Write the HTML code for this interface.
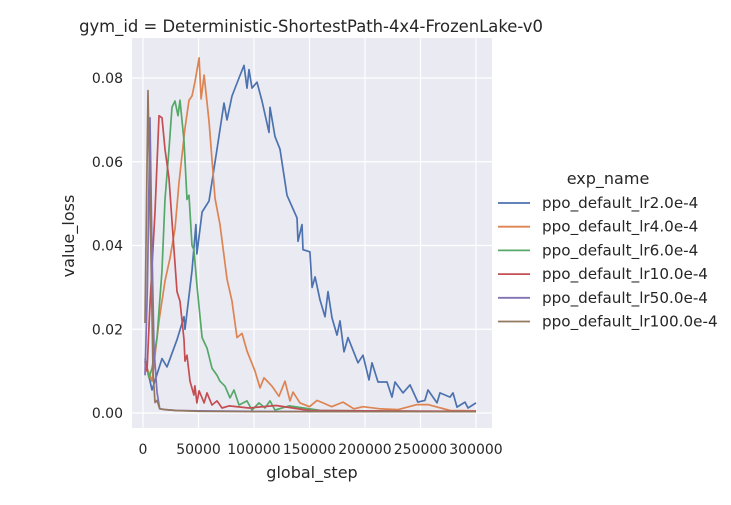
<!DOCTYPE html>
<html><head><meta charset="utf-8"><style>
body{margin:0;background:#fff;}
svg text{font-family:"DejaVu Sans","Liberation Sans",sans-serif;fill:#262626;}
</style></head><body>
<svg id="chart" width="731" height="500"></svg>
<script>
const xTicks=[0,50000,100000,150000,200000,250000,300000];
const yTicks=[0,0.02,0.04,0.06,0.08];
const yTickLabels=["0.00","0.02","0.04","0.06","0.08"];
const seriesNames=["ppo_default_lr2.0e-4","ppo_default_lr4.0e-4","ppo_default_lr6.0e-4","ppo_default_lr10.0e-4","ppo_default_lr50.0e-4","ppo_default_lr100.0e-4"];
const colors=["#4c72b0","#dd8452","#55a868","#c44e52","#8172b3","#937860"];
// steps in thousands
const lr2Steps=[1.8,8.1,17.1,21.6,30.6,36.9,37.8,44.1,47.7,48.6,53.2,59.5,66.7,73,75.7,80.2,86.5,91,93.7,95.5,98.2,102.7,107.2,113.5,114.4,118.9,123.4,129.7,138.7,139.6,143.2,144.1,150.4,152.3,155,159.5,164,166.7,170.3,174.8,177.5,181.1,184.7,193.7,198.2,203.6,206.3,211.7,219.8,224.3,227,234.2,240.5,247.7,254,256.8,264.9,267.6,276.6,279.3,282.9,290.1,292.8,300];
const lr2Vals=[0.013,0.0055,0.013,0.011,0.0175,0.023,0.020,0.034,0.045,0.038,0.048,0.0506,0.063,0.074,0.070,0.0757,0.080,0.083,0.0776,0.082,0.0776,0.079,0.0745,0.067,0.073,0.066,0.063,0.052,0.0466,0.041,0.045,0.039,0.0385,0.030,0.0325,0.027,0.023,0.029,0.0227,0.0186,0.022,0.0146,0.018,0.012,0.0138,0.0079,0.012,0.0074,0.0074,0.0038,0.0074,0.0048,0.0067,0.0026,0.003,0.0055,0.0024,0.0048,0.0038,0.0048,0.0014,0.0026,0.0012,0.0024];
const lr4Steps=[1.8,8.1,14.4,19.8,24.3,28.8,32.4,37.8,41.4,44.1,46.8,50.5,52.3,55,59.5,64.9,69.4,75.7,80.2,84.7,89.2,93.7,100.9,105.4,109,116.2,122.5,127.9,132.4,135.1,141.4,150,156.8,162.2,170,180.2,190,198.2,213.5,230,246.8,256.8,276.6,300];
const lr4Vals=[0.012,0.0076,0.022,0.0315,0.037,0.044,0.055,0.068,0.0747,0.0757,0.079,0.0848,0.075,0.0807,0.0697,0.0513,0.045,0.032,0.0267,0.018,0.019,0.0148,0.010,0.006,0.0084,0.0064,0.004,0.0076,0.0029,0.005,0.0024,0.0015,0.003,0.0024,0.0015,0.0026,0.001,0.0015,0.001,0.0008,0.002,0.002,0.0006,0.0005];
const lr6Steps=[1.8,5.4,8.1,12.6,17.1,19.8,23.4,26.1,28.8,31.5,33.3,36.9,39.6,41.4,44.1,45.9,48.6,53.2,57.7,62.2,66.7,69.4,73.9,78.4,82,86.5,93.7,98.2,104.5,109.9,114.4,118.9,131.5,160,200,250,300];
const lr6Vals=[0.0124,0.0084,0.0107,0.018,0.034,0.051,0.063,0.073,0.0745,0.071,0.0747,0.065,0.051,0.052,0.040,0.039,0.0306,0.018,0.0155,0.0107,0.009,0.0076,0.0064,0.0036,0.0055,0.0019,0.0029,0.0007,0.0024,0.0012,0.0029,0.0007,0.0017,0.0006,0.0005,0.0004,0.0004];
const lr10Steps=[1.8,3.6,6.3,10.8,14.4,17.1,19.8,23.4,27.9,30.6,33.3,36.9,37.8,39.6,42.3,45.9,46.8,48.6,50.5,53.2,55,57.7,62.2,66.7,71.2,77.5,95.5,120,150,200,300];
const lr10Vals=[0.0124,0.010,0.026,0.048,0.071,0.0705,0.063,0.056,0.039,0.029,0.0267,0.0175,0.0124,0.0138,0.0076,0.0043,0.0065,0.0024,0.0053,0.0036,0.0024,0.0048,0.0019,0.0029,0.0012,0.0017,0.0012,0.0018,0.0006,0.0005,0.0004];
const lr50Steps=[1.8,4,6.3,8,10,12.6,15,20,30,50,100,200,300];
const lr50Vals=[0.009,0.03,0.0705,0.04,0.015,0.005,0.001,0.0008,0.0006,0.0005,0.0004,0.0003,0.0003];
const lr100Steps=[1.8,4.5,7,9,10.8,12.6,15,20,30,50,100,200,300];
const lr100Vals=[0.0215,0.077,0.04,0.01,0.0025,0.003,0.001,0.0008,0.0006,0.0004,0.0003,0.0003,0.0003];
const allSteps=[lr2Steps,lr4Steps,lr6Steps,lr10Steps,lr50Steps,lr100Steps];
const allVals=[lr2Vals,lr4Vals,lr6Vals,lr10Vals,lr50Vals,lr100Vals];

const NS="http://www.w3.org/2000/svg";
const svg=document.getElementById('chart');
const L=132,R=492,T=38,B=428;
const xs=v=>143+(v/300000)*333;
const ys=v=>413-(v/0.08)*335;
function mk(tag,at,parent){const e=document.createElementNS(NS,tag);for(const k in at)e.setAttribute(k,at[k]);(parent||svg).appendChild(e);return e;}
const bg=mk('rect',{x:L,y:T,width:R-L,height:B-T,fill:'#eaeaf2'});


xTicks.forEach(t=>{
  const g=mk('line',{x1:xs(t),x2:xs(t),y1:T,y2:B,stroke:'#fff','stroke-width':1.2});
  
  
  const tx=mk('text',{x:xs(t),y:B+26,'text-anchor':'middle','font-size':14});
  tx.textContent=String(t);
  
  
});
yTicks.forEach((t,i)=>{
  const g=mk('line',{x1:L,x2:R,y1:ys(t),y2:ys(t),stroke:'#fff','stroke-width':1.2});
  
  
  const tx=mk('text',{x:L-9,y:ys(t)+5,'text-anchor':'end','font-size':14});
  tx.textContent=yTickLabels[i];
  
  
});
allSteps.forEach((st,si)=>{
  const d=st.map((s,i)=>(i?'L':'M')+xs(s*1000).toFixed(1)+','+ys(allVals[si][i]).toFixed(1)).join(' ');
  const p=mk('path',{d:d,fill:'none',stroke:colors[si],'stroke-width':1.7,'stroke-linejoin':'round'});
  
  
});
const title=mk('text',{x:311,y:32,'text-anchor':'middle','font-size':16.4});
title.textContent='gym_id = Deterministic-ShortestPath-4x4-FrozenLake-v0';


const xl=mk('text',{x:312,y:478,'text-anchor':'middle','font-size':16});
xl.textContent='global_step';


const yl=mk('text',{x:74,y:236,'text-anchor':'middle','font-size':16,transform:'rotate(-90 74 236)'});
yl.textContent='value_loss';


const lt=mk('text',{x:608,y:184,'text-anchor':'middle','font-size':16});
lt.textContent='exp_name';


seriesNames.forEach((n,i)=>{
  const y=203+i*23.7;
  const g=mk('g',{});
  
  
  mk('line',{x1:498,x2:530,y1:y,y2:y,stroke:colors[i],'stroke-width':1.8},g);
  const t=mk('text',{x:542,y:y+5,'font-size':15.2},g);
  t.textContent=n;
});
</script>
</body></html>
